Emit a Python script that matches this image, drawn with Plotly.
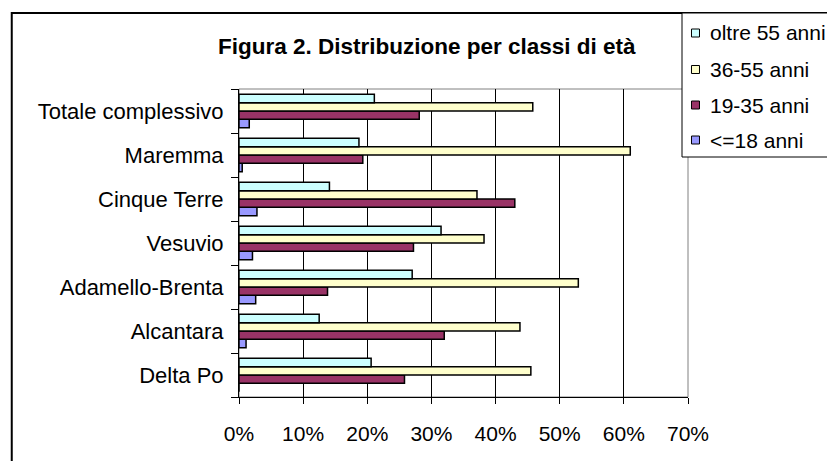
import plotly.graph_objects as go

# ---- data (percent) ----
categories = ["Delta Po", "Alcantara", "Adamello-Brenta", "Vesuvio",
              "Cinque Terre", "Maremma", "Totale complessivo"]
series_names = ["<=18 anni", "19-35 anni", "36-55 anni", "oltre 55 anni"]
fino_18 = [0.0, 1.1, 2.6, 2.1, 2.8, 0.5, 1.6]
anni_19_35 = [25.8, 32.0, 13.8, 27.2, 43.0, 19.3, 28.1]
anni_36_55 = [45.5, 43.8, 52.9, 38.2, 37.1, 61.0, 45.8]
oltre_55 = [20.6, 12.5, 27.0, 31.5, 14.1, 18.7, 21.1]
x_tickvals = [0, 10, 20, 30, 40, 50, 60, 70]
x_ticktext = ["0%", "10%", "20%", "30%", "40%", "50%", "60%", "70%"]
title_text = "Figura 2. Distribuzione per classi di età"

colors = ["#9999FF", "#993366", "#FFFFCC", "#CCFFFF"]
values = [fino_18, anni_19_35, anni_36_55, oltre_55]

FONT = "Arial, Liberation Sans, sans-serif"
W, H = 835, 461
OFF = 8  # page body margin offset
PL, PR, PT, PB = 238.5, 688.0, 89.0, 397.0  # plot area in screen pixels


def px(xp):
    return (xp - PL) / (PR - PL)


def py(yp):
    return (PB - yp) / (PB - PT)


fig = go.Figure()
for name, vals, col in zip(series_names, values, colors):
    fig.add_trace(go.Bar(
        y=categories, x=vals, name=name, orientation="h",
        marker=dict(color=col, line=dict(color="black", width=1.5)),
        showlegend=False,
    ))

shapes = [
    # plot area border
    dict(type="rect", xref="paper", yref="paper", x0=0, x1=1, y0=0, y1=1,
         line=dict(color="#808080", width=1), layer="below"),
    # outer chart border
    dict(type="rect", xref="paper", yref="paper", x0=px(11), x1=px(900),
         y0=py(520), y1=py(13), line=dict(color="black", width=2)),
    # legend box
    dict(type="rect", xref="paper", yref="paper", x0=px(682), x1=px(900),
         y0=py(157), y1=py(13), fillcolor="white",
         line=dict(color="black", width=1)),
]

annotations = [
    dict(text="<b>" + title_text + "</b>", xref="paper", yref="paper",
         x=px(427), y=py(47), xanchor="center", yanchor="middle",
         showarrow=False, font=dict(family=FONT, size=22.5, color="black")),
]

legend_y = [33, 69.5, 105, 140]
legend_order = [3, 2, 1, 0]
for ly, idx in zip(legend_y, legend_order):
    shapes.append(dict(type="rect", xref="paper", yref="paper",
                       x0=px(691.5), x1=px(699.5), y0=py(ly + 4), y1=py(ly - 4),
                       fillcolor=colors[idx], line=dict(color="black", width=1)))
    annotations.append(dict(text=series_names[idx], xref="paper", yref="paper",
                            x=px(708), y=py(ly), xanchor="left", yanchor="middle",
                            showarrow=False,
                            font=dict(family=FONT, size=21, color="black")))

fig.update_layout(
    width=W, height=H, autosize=False,
    margin=dict(l=PL - OFF, r=W - (PR - OFF), t=PT - OFF, b=H - (PB - OFF), pad=0),
    paper_bgcolor="white", plot_bgcolor="white",
    barmode="group", bargap=0.24, bargroupgap=0,
    font=dict(family=FONT, size=21, color="black"),
    shapes=shapes, annotations=annotations,
    xaxis=dict(range=[0, 70], tickvals=x_tickvals, ticktext=x_ticktext,
               showgrid=True, gridcolor="black", gridwidth=1,
               showline=True, linecolor="black", linewidth=1,
               ticks="outside", ticklen=6, tickcolor="black",
               tickfont=dict(family=FONT, size=21), zeroline=False,
               ticklabelstandoff=12),
    yaxis=dict(type="category", categoryorder="array", categoryarray=categories,
               showgrid=False, showline=True, linecolor="black", linewidth=1,
               ticks="outside", ticklen=7, tickcolor="black",
               tickson="boundaries",
               tickfont=dict(family=FONT, size=22),
               ticklabelstandoff=10),
)

fig.write_html("out.html")
